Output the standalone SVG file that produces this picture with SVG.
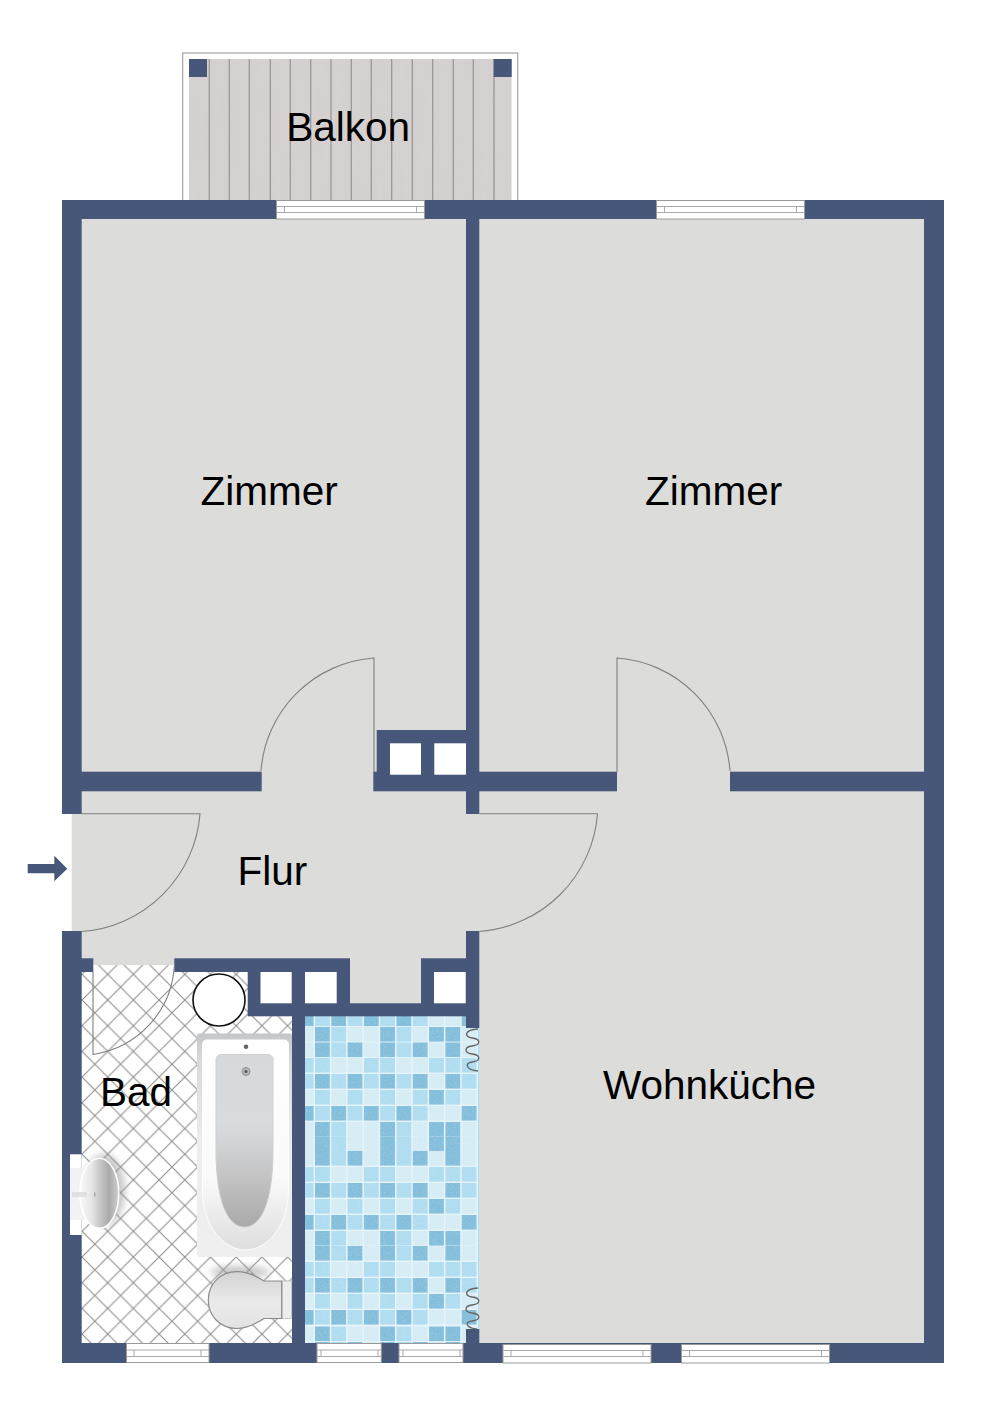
<svg xmlns="http://www.w3.org/2000/svg" width="1000" height="1415" viewBox="0 0 1000 1415">
<style>
.w{fill:#47577a}
.f{fill:#dcdcda}
.h{fill:#fff}
.d{fill:#82bedb}
.m{fill:#aedcf0}
.p{fill:#d5ecf5}
.sw{fill:none;stroke:#808080;stroke-width:1.1}
.pl{stroke:#989294;stroke-width:1.2}
.win{fill:#fff;stroke:#9a9a9a;stroke-width:1}
.wl{fill:none;stroke:#a8a8a8;stroke-width:1}
.sp{fill:none;stroke:#666;stroke-width:1.4}
text{font-family:"Liberation Sans",Arial,sans-serif;font-size:40.5px;fill:#000}
</style>
<defs>
<pattern id="tile" patternUnits="userSpaceOnUse" x="4.9" y="23.4" width="25.7" height="25.7">
<path d="M0 0L25.7 25.7M25.7 0L0 25.7" stroke="#8f8f8f" stroke-width="1.1" fill="none"/>
</pattern>
<filter id="grain" x="0" y="0" width="100%" height="100%">
<feTurbulence type="fractalNoise" baseFrequency="0.25 0.012" numOctaves="3" seed="4"/>
<feColorMatrix values="0 0 0 0 .62  0 0 0 0 .59  0 0 0 0 .6  1.2 0 0 0 -.42"/>
</filter>
<filter id="speck" x="0" y="0" width="100%" height="100%">
<feTurbulence type="fractalNoise" baseFrequency="0.9" numOctaves="2" seed="7"/>
<feColorMatrix values="0 0 0 0 1  0 0 0 0 1  0 0 0 0 1  1.6 0 0 0 -.72"/>
</filter>
<filter id="soft" x="-30%" y="-30%" width="160%" height="160%"><feGaussianBlur stdDeviation="3.5"/></filter>
<linearGradient id="tubOuter" x1="0" y1="0" x2="0" y2="1"><stop offset="0" stop-color="#c4c6c7"/><stop offset=".12" stop-color="#d8d9da"/><stop offset=".5" stop-color="#ededed"/><stop offset="1" stop-color="#efefef"/></linearGradient>
<linearGradient id="tubRim" x1="0" y1="0" x2="0" y2="1"><stop offset="0" stop-color="#fff"/><stop offset=".65" stop-color="#fafafa"/><stop offset="1" stop-color="#dedede"/></linearGradient>
<linearGradient id="tubBasin" x1="0" y1="0" x2="0" y2="1"><stop offset="0" stop-color="#d6d9db"/><stop offset=".4" stop-color="#d9dcdf"/><stop offset=".7" stop-color="#c4c4c5"/><stop offset="1" stop-color="#a9a9a9"/></linearGradient>
<linearGradient id="wc" x1="0" y1="0" x2="0" y2="1"><stop offset="0" stop-color="#d2d2d2"/><stop offset=".55" stop-color="#ebebeb"/><stop offset="1" stop-color="#e2e2e2"/></linearGradient>
<linearGradient id="basin" x1="0" y1="0" x2="1" y2="0"><stop offset="0" stop-color="#fafafa"/><stop offset=".3" stop-color="#e6e6e6"/><stop offset=".75" stop-color="#a9a9a9"/><stop offset="1" stop-color="#cfcfcf"/></linearGradient>
<g id="rA"><rect x="300" width="13.6" height="14.6" class="d"/><rect x="315" width="14.8" height="14.6" class="m"/><rect x="331.3" width="14.8" height="14.6" class="d"/><rect x="347.6" width="14.8" height="14.6" class="m"/><rect x="363.9" width="14.8" height="14.6" class="d"/><rect x="380.2" width="14.8" height="14.6" class="m"/><rect x="396.5" width="14.8" height="14.6" class="d"/><rect x="412.8" width="14.8" height="14.6" class="m"/><rect x="429.1" width="14.8" height="14.6" class="p"/><rect x="445.4" width="14.8" height="14.6" class="p"/><rect x="461.7" width="14.8" height="14.6" class="d"/></g>
<g id="rX"><rect x="300" width="13.6" height="14.6" class="p"/><rect x="315" width="14.8" height="14.6" class="d"/><rect x="331.3" width="14.8" height="14.6" class="m"/><rect x="347.6" width="14.8" height="14.6" class="p"/><rect x="363.9" width="14.8" height="14.6" class="p"/><rect x="380.2" width="14.8" height="14.6" class="d"/><rect x="396.5" width="14.8" height="14.6" class="m"/><rect x="412.8" width="14.8" height="14.6" class="p"/><rect x="429.1" width="14.8" height="14.6" class="d"/><rect x="445.4" width="14.8" height="14.6" class="d"/><rect x="461.7" width="14.8" height="14.6" class="p"/></g>
<g id="rY"><rect x="300" width="13.6" height="14.6" class="p"/><rect x="315" width="14.8" height="14.6" class="d"/><rect x="331.3" width="14.8" height="14.6" class="m"/><rect x="347.6" width="14.8" height="14.6" class="d"/><rect x="363.9" width="14.8" height="14.6" class="p"/><rect x="380.2" width="14.8" height="14.6" class="d"/><rect x="396.5" width="14.8" height="14.6" class="m"/><rect x="412.8" width="14.8" height="14.6" class="d"/><rect x="429.1" width="14.8" height="14.6" class="p"/><rect x="445.4" width="14.8" height="14.6" class="d"/><rect x="461.7" width="14.8" height="14.6" class="p"/></g>
<g id="rD"><rect x="300" width="13.6" height="14.6" class="m"/><rect x="315" width="14.8" height="14.6" class="m"/><rect x="331.3" width="14.8" height="14.6" class="p"/><rect x="347.6" width="14.8" height="14.6" class="p"/><rect x="363.9" width="14.8" height="14.6" class="m"/><rect x="380.2" width="14.8" height="14.6" class="m"/><rect x="396.5" width="14.8" height="14.6" class="p"/><rect x="412.8" width="14.8" height="14.6" class="p"/><rect x="429.1" width="14.8" height="14.6" class="m"/><rect x="445.4" width="14.8" height="14.6" class="m"/><rect x="461.7" width="14.8" height="14.6" class="m"/></g>
<g id="rE"><rect x="300" width="13.6" height="14.6" class="m"/><rect x="315" width="14.8" height="14.6" class="d"/><rect x="331.3" width="14.8" height="14.6" class="m"/><rect x="347.6" width="14.8" height="14.6" class="d"/><rect x="363.9" width="14.8" height="14.6" class="m"/><rect x="380.2" width="14.8" height="14.6" class="d"/><rect x="396.5" width="14.8" height="14.6" class="m"/><rect x="412.8" width="14.8" height="14.6" class="d"/><rect x="429.1" width="14.8" height="14.6" class="p"/><rect x="445.4" width="14.8" height="14.6" class="d"/><rect x="461.7" width="14.8" height="14.6" class="m"/></g>
<g id="rF"><rect x="300" width="13.6" height="14.6" class="p"/><rect x="315" width="14.8" height="14.6" class="m"/><rect x="331.3" width="14.8" height="14.6" class="p"/><rect x="347.6" width="14.8" height="14.6" class="m"/><rect x="363.9" width="14.8" height="14.6" class="p"/><rect x="380.2" width="14.8" height="14.6" class="m"/><rect x="396.5" width="14.8" height="14.6" class="p"/><rect x="412.8" width="14.8" height="14.6" class="m"/><rect x="429.1" width="14.8" height="14.6" class="d"/><rect x="445.4" width="14.8" height="14.6" class="m"/><rect x="461.7" width="14.8" height="14.6" class="p"/></g>
<g id="window"><rect x=".5" y=".5" width="148" height="18.5" class="win"/><path d="M1 6.5H148M1 12.5H148M8.5 6.5V12.5M140.5 6.5V12.5" class="wl"/></g>
</defs>

<g id="balkon">
<rect x="182.7" y="53" width="335" height="148" fill="#fff" stroke="#a6a6a6" stroke-width="1.2"/>
<rect x="189" y="59" width="322.5" height="141" fill="#d6d1d1"/>
<rect x="189" y="59" width="322.5" height="141" filter="url(#grain)" opacity=".35"/>
<path class="pl" d="M209.3 59V200M229.3 59V200M249.3 59V200M270.3 59V200M290.3 59V200M310.7 59V200M331 59V200M351.3 59V200M371.3 59V200M391.7 59V200M412.3 59V200M432.7 59V200M453.3 59V200M473.3 59V200M494 59V200"/>
<rect x="189" y="59" width="18" height="18" class="w"/>
<rect x="493.7" y="59" width="18" height="18" class="w"/>
</g>

<g id="floors">
<rect x="81" y="219" width="386" height="554" class="f"/>
<rect x="478" y="219" width="447" height="554" class="f"/>
<rect x="478" y="790" width="447" height="554" class="f"/>
<rect x="71.7" y="814" width="12" height="117.5" class="f"/>
<rect x="81" y="771" width="400" height="190" class="f"/>
<rect x="350" y="958" width="71" height="46" class="f"/>
<rect x="610" y="771" width="125" height="22" class="f"/>
</g>

<g id="bad-floor">
<rect x="81" y="965" width="212" height="379" fill="#fff"/>
<rect x="81" y="965" width="212" height="379" fill="url(#tile)"/>
<rect x="93" y="958" width="82" height="7" class="f"/>
</g>

<g id="mosaic">
<rect x="300" y="1010" width="179.3" height="335" fill="#e6f4f9"/>
<use href="#rA" y="1011.5"/><use href="#rX" y="1027"/><use href="#rY" y="1042.5"/><use href="#rD" y="1058"/><use href="#rE" y="1074"/><use href="#rF" y="1090"/>
<use href="#rA" y="1106"/><use href="#rX" y="1122"/><use href="#rX" y="1136.5"/><use href="#rY" y="1151"/><use href="#rD" y="1167"/><use href="#rE" y="1183"/><use href="#rF" y="1199"/>
<use href="#rA" y="1215"/><use href="#rX" y="1231"/><use href="#rY" y="1246"/><use href="#rD" y="1262"/><use href="#rE" y="1278"/><use href="#rF" y="1294"/><use href="#rA" y="1310"/><use href="#rX" y="1326.5"/><use href="#rY" y="1342"/>
<rect x="478" y="1016" width="1.3" height="327" fill="#a9d9ee"/>
<rect x="300" y="1010" width="179.3" height="335" filter="url(#speck)" opacity=".3"/>
<path class="sp" d="M478 1029C464 1030 464 1037 472 1038C481 1039 481 1045 472 1046C464 1047 464 1053 472 1054C481 1055 481 1061 472 1062C464 1063 466 1070 478 1071"/>
<path class="sp" d="M478 1288C464 1289 464 1296 472 1297C481 1298 481 1304 472 1305C464 1306 464 1312 472 1313C481 1314 481 1320 472 1321C464 1322 466 1328 477 1329"/>
</g>

<g id="walls">
<rect x="62" y="200" width="882" height="19" class="w"/>
<rect x="62" y="200" width="19.7" height="614" class="w"/>
<rect x="62" y="931" width="19.7" height="432" class="w"/>
<rect x="924" y="200" width="20" height="1163" class="w"/>
<rect x="62" y="1343" width="882" height="20" class="w"/>
<rect x="466" y="200" width="13.3" height="614" class="w"/>
<rect x="466" y="931" width="13.3" height="97" class="w"/>
<rect x="466" y="1329" width="13.3" height="14" class="w"/>
<rect x="81" y="771.7" width="180.7" height="19.6" class="w"/>
<rect x="373.3" y="771.7" width="243.7" height="19.6" class="w"/>
<rect x="730" y="771.7" width="194" height="19.6" class="w"/>
<rect x="376.7" y="730" width="90" height="42" class="w"/>
<rect x="81" y="958.3" width="12.3" height="13.7" class="w"/>
<rect x="174.3" y="958.3" width="175.7" height="13.7" class="w"/>
<rect x="247.7" y="972" width="102.3" height="44.3" class="w"/>
<rect x="421" y="958.3" width="58" height="58" class="w"/>
<rect x="350" y="1003.3" width="71" height="13" class="w"/>
<rect x="292" y="1016" width="13" height="328" class="w"/>
<rect x="390" y="743.3" width="31" height="31.4" class="h"/>
<rect x="434.3" y="743.3" width="31.7" height="31.4" class="h"/>
<rect x="260.5" y="972" width="31.2" height="31.3" class="h"/>
<rect x="305" y="972" width="31.7" height="31.3" class="h"/>
<rect x="434" y="972" width="31.7" height="31.3" class="h"/>
</g>

<g id="windows">
<use href="#window" x="276" y="200"/>
<use href="#window" x="656" y="200"/>
<use href="#window" x="502.5" y="1344"/>
<use href="#window" x="681" y="1344"/>
<rect x="126.5" y="1343.5" width="82.5" height="19" class="win"/><path d="M127 1350H209M127 1356.5H209M134 1350V1356.5M201 1350V1356.5" class="wl"/>
<rect x="317" y="1343.5" width="64.3" height="19" class="win"/><path d="M317 1350H381M317 1356.5H381M321 1350V1356.5M378 1350V1356.5" class="wl"/>
<rect x="399" y="1343.5" width="64" height="19" class="win"/><path d="M399 1350H463M399 1356.5H463M403 1350V1356.5M460 1350V1356.5" class="wl"/>
</g>

<g id="doors">
<path class="sw" d="M374 772V658A122 122 0 0 0 261 771"/>
<path class="sw" d="M617 772V658A122 122 0 0 1 730 771"/>
<path class="sw" d="M81.7 813.7H200A128 128 0 0 1 81.7 931.5"/>
<path class="sw" d="M479.3 813.7H597.5A128 128 0 0 1 479.3 931.5"/>
<path class="sw" d="M174.3 966A95 95 0 0 1 93 1054.500V972" stroke-width="1.2"/>
</g>

<g id="boiler"><circle cx="219" cy="1000" r="26" fill="#fff" stroke="#111" stroke-width="1.6"/></g>

<g id="wanne">
<rect x="197" y="1033.5" width="95" height="223.5" rx="2" fill="url(#tubOuter)"/>
<path d="M207 1040H284Q288.500 1040 288.500 1045V1190C288.500 1228 266 1250 245.500 1250C225 1250 202.500 1228 202.500 1190V1045Q202.500 1040 207 1040Z" fill="url(#tubRim)" stroke="#fff" stroke-width="1"/>
<path d="M222 1054.500H267Q273 1054.500 273 1060V1150C273 1200 262 1227 244.500 1227C227 1227 216 1200 216 1150V1060Q216 1054.500 222 1054.500Z" fill="url(#tubBasin)" stroke="#cfcfcf" stroke-width="1"/>
<circle cx="246" cy="1071.500" r="4" fill="#b5b5b5" stroke="#8d9398" stroke-width="1"/><circle cx="246" cy="1071.500" r="1.500" fill="#555"/>
<circle cx="246" cy="1046.700" r="2.300" fill="#666"/>
</g>

<g id="wc-fixture">
<ellipse cx="240" cy="1272" rx="30" ry="6" fill="#999" opacity=".55" filter="url(#soft)"/>
<rect x="282" y="1281" width="9.700" height="37.500" fill="#ededed" stroke="#bbb" stroke-width=".8"/>
<path d="M264 1281H281.700V1318.500H264C254 1325 245 1328.500 237 1328.500C220 1328.500 208.300 1316 208.300 1300C208.300 1284 220 1271.700 237 1271.700C246 1271.700 255 1275 264 1281Z" fill="url(#wc)" stroke="#8c8c8c" stroke-width="1.200"/>
</g>

<g id="waschbecken">
<rect x="70" y="1154.300" width="11.700" height="80.700" fill="#fff"/>
<ellipse cx="104" cy="1190" rx="21" ry="36" fill="#8f8f8f" opacity=".5" filter="url(#soft)"/>
<rect x="70" y="1168" width="22" height="52" fill="#f2f2f2"/>
<ellipse cx="99.300" cy="1193.300" rx="19.500" ry="35" fill="url(#basin)" stroke="#fff" stroke-width="1.500"/>
<rect x="72" y="1192" width="15" height="5" fill="#e0e0e0"/>
<rect x="94" y="1192.500" width="1.500" height="4" fill="#aaa"/>
</g>

<g id="entry-arrow"><polygon points="27.700,864 54.300,864 54.300,855.700 67.300,868.700 54.300,881.300 54.300,873.300 27.700,873.300" class="w"/></g>

<g id="labels">
<text x="286.300" y="141">Balkon</text>
<text x="200.500" y="505">Zimmer</text>
<text x="645" y="505">Zimmer</text>
<text x="237.500" y="885">Flur</text>
<text x="100" y="1106">Bad</text>
<text x="603" y="1099">Wohnküche</text>
</g>
</svg>
